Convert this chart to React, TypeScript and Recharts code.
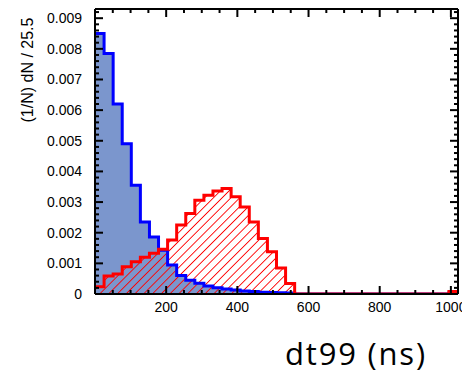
import { ComposedChart, Area, Line, XAxis, YAxis } from "recharts";

// histogram bin width in ns (matches the "/ 25.5" in the y title)
const BIN = 25.5;

const blueVals = [
  0.0085, 0.00785, 0.0062, 0.0049, 0.00355, 0.00235, 0.00186, 0.00143, 0.00095, 0.0006,
  0.00045, 0.00035, 0.00026, 0.0002, 0.00016, 0.00013, 0.0001, 0.00008, 0.00006, 0.00005,
  0.00004, 0.00003, 0, 0, 0, 0, 0, 0, 0, 0,
  0, 0, 0, 0, 0, 0, 0, 0, 0, 0.00003,
];

const redVals = [
  0.00024, 0.00059, 0.00065, 0.00089, 0.00105, 0.0012, 0.00133, 0.00146, 0.00176, 0.00225,
  0.00263, 0.00306, 0.00322, 0.00336, 0.00344, 0.00317, 0.00284, 0.00235, 0.00181, 0.00138,
  0.00085, 0.00034, 0, 0, 0, 0, 0, 0, 0, 0,
  0, 0, 0, 0, 0, 0, 0, 0, 0, 0.00008,
];

const xMajor = [200, 400, 600, 800, 1000];
const xMinorStep = 50;
const yMajor = [0, 0.001, 0.002, 0.003, 0.004, 0.005, 0.006, 0.007, 0.008, 0.009];
const yMinorStep = 0.0002;

const X_MAX = 1020;
const Y_MAX = 0.0093;

const data = Array.from({ length: blueVals.length + 1 }, (_, i) => {
  const k = Math.min(i, blueVals.length - 1);
  return { x: i * BIN, blue: blueVals[k], red: redVals[k] };
});

const xTicks = Array.from({ length: 1000 / xMinorStep + 1 }, (_, i) => i * xMinorStep);
const yTicks = Array.from({ length: 47 }, (_, i) => +(i * yMinorStep).toFixed(4));

const FONT = "'Liberation Sans', Arial, Helvetica, sans-serif";
const MAJ = 8;
const MIN = 4;

const isMajorX = (v: number) => xMajor.includes(v);
const isMajorY = (v: number) => yMajor.some((m) => Math.abs(m - v) < 1e-9);

function BottomTick({ x, y, payload }: any) {
  const major = isMajorX(payload.value);
  return (
    <g>
      <line x1={x} x2={x} y1={y} y2={y - (major ? MAJ : MIN)} stroke="#000" strokeWidth={2} />
      {major && (
        <text x={x} y={y + 18} textAnchor="middle" fontSize={14} fontFamily={FONT} fill="#000">
          {payload.value}
        </text>
      )}
    </g>
  );
}

function TopTick({ x, y, payload }: any) {
  const major = isMajorX(payload.value);
  return <line x1={x} x2={x} y1={y} y2={y + (major ? MAJ : MIN)} stroke="#000" strokeWidth={2} />;
}

function LeftTick({ x, y, payload }: any) {
  const major = isMajorY(payload.value);
  return (
    <g>
      <line x1={x} x2={x + (major ? MAJ : MIN)} y1={y} y2={y} stroke="#000" strokeWidth={2} />
      {major && (
        <text x={x - 13} y={y + 5} textAnchor="end" fontSize={14} fontFamily={FONT} fill="#000">
          {payload.value === 0 ? "0" : payload.value.toFixed(3)}
        </text>
      )}
    </g>
  );
}

function RightTick({ x, y, payload }: any) {
  const major = isMajorY(payload.value);
  return <line x1={x} x2={x - (major ? MAJ : MIN)} y1={y} y2={y} stroke="#000" strokeWidth={2} />;
}

function YTitle() {
  return (
    <text
      x={25}
      y={62}
      transform="rotate(-90 25 62)"
      textAnchor="middle"
      fontSize={16}
      fontFamily={FONT}
      fill="#000"
    >
      (1/N) dN / 25.5
    </text>
  );
}

function XTitle() {
  return (
    <text
      x={348}
      y={357}
      textAnchor="middle"
      fontSize={31}
      letterSpacing={1.8}
      fontFamily="'Open Sans', Lato, sans-serif"
      fill="#000"
    >
      dt99 (ns)
    </text>
  );
}

export default function App() {
  const axisLine = { stroke: "#000", strokeWidth: 2 };
  return (
    <div style={{ width: 462, height: 367 }}>
      <ComposedChart width={462} height={367} data={data} margin={{ top: 0, right: 0, bottom: 0, left: 0 }}>
        <defs>
          <pattern id="hatch" patternUnits="userSpaceOnUse" width={6.2} height={6.2} patternTransform="rotate(45)">
            <line x1={0} y1={0} x2={0} y2={6.2} stroke="#ff0000" strokeWidth={1.8} />
          </pattern>
        </defs>
        <XAxis
          dataKey="x"
          type="number"
          domain={[0, X_MAX]}
          allowDataOverflow
          ticks={xTicks}
          interval={0}
          tickSize={0}
          tickMargin={0}
          tickLine={false}
          tick={<BottomTick />}
          axisLine={axisLine}
          height={81}
          label={<XTitle />}
        />
        <XAxis
          xAxisId="t"
          dataKey="x"
          type="number"
          orientation="top"
          domain={[0, X_MAX]}
          allowDataOverflow
          ticks={xTicks}
          interval={0}
          tickSize={0}
          tickMargin={0}
          tickLine={false}
          tick={<TopTick />}
          axisLine={axisLine}
          height={1}
        />
        <YAxis
          type="number"
          domain={[0, Y_MAX]}
          allowDataOverflow
          ticks={yTicks}
          interval={0}
          tickSize={0}
          tickMargin={0}
          tickLine={false}
          tick={<LeftTick />}
          axisLine={axisLine}
          width={87}
          label={<YTitle />}
        />
        <YAxis
          yAxisId="r"
          type="number"
          orientation="right"
          domain={[0, Y_MAX]}
          allowDataOverflow
          ticks={yTicks}
          interval={0}
          tickSize={0}
          tickMargin={0}
          tickLine={false}
          tick={<RightTick />}
          axisLine={axisLine}
          width={12}
        />
        <Area
          type="stepAfter"
          dataKey="blue"
          fill="#7b96cd"
          fillOpacity={1}
          stroke="none"
          isAnimationActive={false}
        />
        <Area
          type="stepAfter"
          dataKey="red"
          fill="url(#hatch)"
          fillOpacity={1}
          stroke="none"
          isAnimationActive={false}
        />
        <Line
          type="stepAfter"
          dataKey="blue"
          stroke="#0000ff"
          strokeWidth={3}
          dot={false}
          activeDot={false}
          isAnimationActive={false}
        />
        <Line
          xAxisId="t"
          yAxisId="r"
          type="stepAfter"
          dataKey="red"
          stroke="#ff0000"
          strokeWidth={3}
          dot={false}
          activeDot={false}
          isAnimationActive={false}
        />
      </ComposedChart>
    </div>
  );
}
